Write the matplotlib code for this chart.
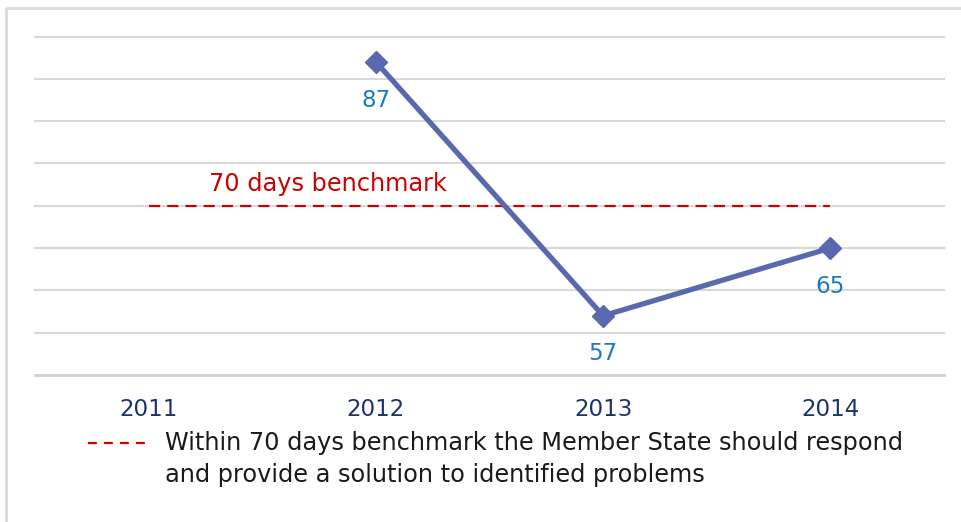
import matplotlib
matplotlib.use('Agg')
import matplotlib.pyplot as plt
from matplotlib.lines import Line2D

# chart data
years = ['2011', '2012', '2013', '2014']
days = [None, 87, 57, 65]
benchmark = 70
benchmark_label = '70 days benchmark'
legend_text = 'Within 70 days benchmark the Member State should respond\nand provide a solution to identified problems'

# colours
line_color = '#5A68AE'
label_color = '#1B7BBE'
year_color = '#1C3370'
bench_color = '#CC0000'
grid_color = '#D9D9D9'

plt.rcParams['font.family'] = ['DejaVu Sans']

fig = plt.figure(figsize=(9.61, 5.22), dpi=100)
ax = fig.add_axes([35 / 961, 1 - 375 / 522, 909 / 961, (375 - 36.5) / 522])

xs = [i + 0.5 for i in range(len(years))]

# grid
ax.set_ylim(50, 90)
ax.set_xlim(0, len(years))
ax.set_yticks(range(55, 91, 5))
ax.yaxis.grid(True, color=grid_color, linewidth=1.5)
for gl in ax.get_ygridlines():
    gl.set_clip_on(False)
ax.set_axisbelow(True)
for s in ['top', 'right', 'left']:
    ax.spines[s].set_visible(False)
ax.spines['bottom'].set_color('#D0D0D0')
ax.spines['bottom'].set_linewidth(2)
ax.tick_params(axis='y', left=False, labelleft=False)
ax.tick_params(axis='x', bottom=False, pad=13)
ax.set_xticks(xs)
ax.set_xticklabels(years, fontsize=16.6, color=year_color)

# benchmark line
ax.plot([xs[0], xs[-1]], [benchmark, benchmark], color=bench_color, linewidth=1.6,
        dashes=(5, 3.2))
ax.text(1.29, 71.7, benchmark_label, color=bench_color, fontsize=17.3, ha='center', va='baseline')

# series
px = [x for x, v in zip(xs, days) if v is not None]
py = [v for v in days if v is not None]
ax.plot(px, py, color=line_color, linewidth=3.8, marker='D', markersize=11,
        clip_on=False, zorder=3)
for x, v in zip(px, py):
    ax.annotate(str(v), (x, v), xytext=(0, -27.5), textcoords='offset points',
                ha='center', va='center', fontsize=16.6, color=label_color)

# legend drawn by hand
fig.add_artist(Line2D([88 / 961, 152 / 961], [1 - 443 / 522, 1 - 443 / 522],
                      color=bench_color, linewidth=1.6, dashes=(4, 3.2)))
fig.text(165 / 961, 1 - 431 / 522, legend_text, fontsize=17.3, color='#1A1A1A',
         ha='left', va='top', linespacing=1.42)

# outer frame
fig.add_artist(Line2D([6 / 961, 6 / 961, 1.0], [0.0, 1 - 8 / 522, 1 - 8 / 522],
                      color='#D9D9D9', linewidth=2))

fig.savefig('out.png', dpi=100)
